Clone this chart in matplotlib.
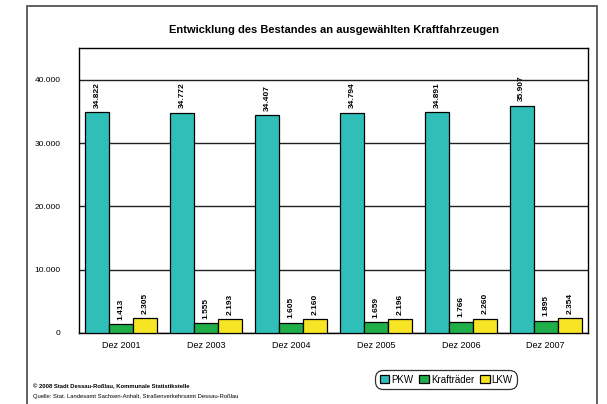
import numpy as np
import matplotlib
matplotlib.use("Agg")
import matplotlib.pyplot as plt
from matplotlib.patches import Rectangle

plt.rcParams['font.family'] = ['Liberation Sans', 'DejaVu Sans']

categories = ["Dez 2001", "Dez 2003", "Dez 2004", "Dez 2005", "Dez 2006", "Dez 2007"]
pkw = [34822, 34772, 34407, 34794, 34891, 35907]
krad = [1413, 1555, 1605, 1659, 1766, 1895]
lkw = [2305, 2193, 2160, 2196, 2260, 2354]
series = [("PKW", pkw, "#30BFB8"), ("Krafträder", krad, "#1FAE4A"), ("LKW", lkw, "#F7E424")]

def fmt(v):
    return "{:,}".format(v).replace(",", ".")

fig = plt.figure(figsize=(6.07, 4.04), dpi=100)
ax = fig.add_axes([0.130, 0.176, 0.839, 0.705])

x = np.arange(len(categories))
w = 0.283
for i, (name, vals, col) in enumerate(series):
    pos = x + (i - 1) * w
    ax.bar(pos, vals, width=w, color=col, edgecolor="black", linewidth=0.9, label=name, zorder=3)
    for p, v in zip(pos, vals):
        ax.text(p, v + 700, fmt(v), rotation=90, ha="center", va="bottom",
                fontsize=6, fontweight="bold", zorder=4)

ax.set_xlim(-0.5, len(categories) - 0.5)
ax.set_ylim(0, 45000)
ax.set_yticks([0, 10000, 20000, 30000, 40000])
ax.set_yticklabels([fmt(t) for t in [0, 10000, 20000, 30000, 40000]], fontsize=6)
ax.set_xticks(x)
ax.set_xticklabels(categories, fontsize=6.5)
ax.tick_params(axis="both", length=0)
ax.tick_params(axis="y", pad=13)
ax.tick_params(axis="x", pad=6)
ax.yaxis.grid(True, color="#202020", linewidth=1.0, zorder=0)
for s in ax.spines.values():
    s.set_linewidth(1.0)
    s.set_color("black")

fig.text(0.55, 0.925, "Entwicklung des Bestandes an ausgewählten Kraftfahrzeugen",
         ha="center", va="center", fontsize=8, fontweight="bold")

leg = ax.legend(loc="center", bbox_to_anchor=(0.735, 0.06), bbox_transform=fig.transFigure,
                ncol=3, fontsize=7, frameon=True, fancybox=True, handlelength=1.0,
                handleheight=0.9, handletextpad=0.2, columnspacing=0.6, borderpad=0.25,
                edgecolor="black")
leg.get_frame().set_linewidth(0.9)
leg.get_frame().set_boxstyle("round,pad=0.2,rounding_size=0.8")

fig.text(0.055, 0.044, "© 2008 Stadt Dessau-Roßlau, Kommunale Statistikstelle",
         fontsize=4.2, fontweight="bold", va="center")
fig.text(0.055, 0.018, "Quelle: Stat. Landesamt Sachsen-Anhalt, Straßenverkehrsamt Dessau-Roßlau",
         fontsize=4.2, va="center")

fig.patches.append(Rectangle((0.0445, -0.05), 0.939, 1.035, transform=fig.transFigure,
                             fill=False, edgecolor="#555555", linewidth=1.3))

fig.savefig("out.png", dpi=100)
